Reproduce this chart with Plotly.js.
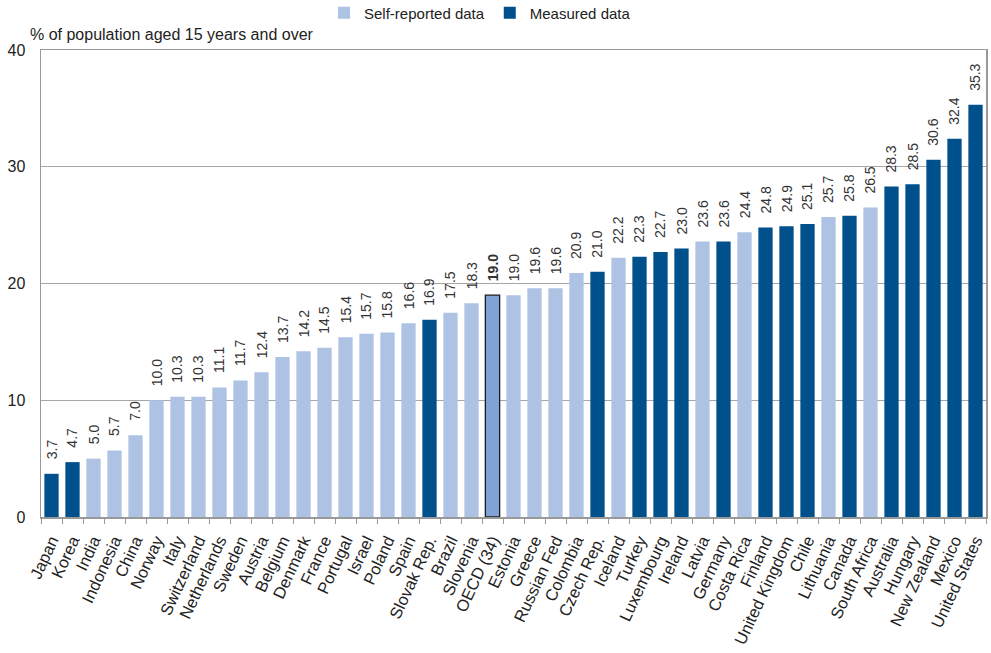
<!DOCTYPE html>
<html>
<head>
<meta charset="utf-8">
<script src="https://cdn.plot.ly/plotly-3.0.1.min.js"></script>
<style>html,body{margin:0;padding:0;background:#fff}#chart{width:991px;height:653px}</style>
</head>
<body>
<div id="chart"></div>
<script>
// Obesity rates, % of population aged 15 and over
const countries = ["Japan","Korea","India","Indonesia","China","Norway","Italy","Switzerland","Netherlands","Sweden","Austria","Belgium","Denmark","France","Portugal","Israel","Poland","Spain","Slovak Rep.","Brazil","Slovenia","OECD (34)","Estonia","Greece","Russian Fed","Colombia","Czech Rep.","Iceland","Turkey","Luxembourg","Ireland","Latvia","Germany","Costa Rica","Finland","United Kingdom","Chile","Lithuania","Canada","South Africa","Australia","Hungary","New Zealand","Mexico","United States"];
const values = [3.7,4.7,5.0,5.7,7.0,10.0,10.3,10.3,11.1,11.7,12.4,13.7,14.2,14.5,15.4,15.7,15.8,16.6,16.9,17.5,18.3,19.0,19.0,19.6,19.6,20.9,21.0,22.2,22.3,22.7,23.0,23.6,23.6,24.4,24.8,24.9,25.1,25.7,25.8,26.5,28.3,28.5,30.6,32.4,35.3];
// S = self-reported, M = measured, A = OECD average
const source = ["M","M","S","S","S","S","S","S","S","S","S","S","S","S","S","S","S","S","M","S","S","A","S","S","S","S","M","S","M","M","M","S","M","S","M","M","M","S","M","S","M","M","M","M","M"];
const yTicks = [0,10,20,30,40];

const colSelf = "#aec3e4", colMeasured = "#00508c", colAvg = "#7fa3d5";
const FONT = "Liberation Sans, Arial, sans-serif";

function pick(code) {
  const x = [], y = [];
  countries.forEach((c, i) => {
    if (source[i] === code) { x.push(c); y.push(values[i]); }
  });
  return {x, y};
}

function barTrace(code, name, color, showlegend, line) {
  const d = pick(code);
  return {
    type: "bar", x: d.x, y: d.y, name: name, showlegend: showlegend,
    marker: {color: color, line: line || {width: 0}},
    hoverinfo: "x+y"
  };
}

const traces = [
  barTrace("S", "Self-reported data", colSelf, true),
  barTrace("M", "Measured data", colMeasured, true),
  barTrace("A", "OECD (34)", colAvg, false, {color: "#1a1a1a", width: 1.3})
];

// value labels, rotated, above each bar
const valueLabels = countries.map((c, i) => ({
  x: c, y: values[i], xref: "x", yref: "y",
  text: source[i] === "A" ? "<b>" + values[i].toFixed(1) + "</b>" : values[i].toFixed(1),
  textangle: -90, showarrow: false, xanchor: "center", yanchor: "bottom",
  yshift: 12, font: {family: FONT, size: 14, color: "#333"}
}));

const layout = {
  width: 991, height: 653,
  margin: {l: 41, r: 5, t: 50, b: 136, autoexpand: false},
  paper_bgcolor: "#fff", plot_bgcolor: "#fff",
  barmode: "overlay", bargap: 0.32,
  font: {family: FONT, color: "#222"},
  xaxis: {
    type: "category", categoryorder: "array", categoryarray: countries,
    tickangle: -65, tickfont: {size: 16.5, color: "#222"}, ticklabelstandoff: 6,
    showline: true, linecolor: "#999", linewidth: 1.5, mirror: true,
    ticks: "outside", tickson: "boundaries", ticklen: 5, tickcolor: "#999",
    showgrid: false, automargin: false
  },
  yaxis: {
    range: [0, 40], tickvals: yTicks, ticktext: yTicks.map(String),
    tickfont: {size: 16, color: "#222"}, ticklabelstandoff: 11,
    showline: true, linecolor: "#999", linewidth: 1.5, mirror: true,
    gridcolor: "#a6a6a6", gridwidth: 1.2, zeroline: false,
    ticks: "", automargin: false
  },
  legend: {
    orientation: "h", x: 0.2995, xanchor: "left",
    yref: "container", y: 0.98, yanchor: "middle",
    font: {size: 15, color: "#222"}, itemwidth: 30, traceorder: "normal",
    bgcolor: "rgba(0,0,0,0)"
  },
  annotations: [{
    text: "% of population aged 15 years and over",
    xref: "paper", yref: "paper", x: -0.014, y: 1.01, xanchor: "left", yanchor: "bottom",
    showarrow: false, font: {size: 16, color: "#222"}
  }].concat(valueLabels)
};

Plotly.newPlot("chart", traces, layout, {displayModeBar: false, staticPlot: true});
</script>
</body>
</html>
